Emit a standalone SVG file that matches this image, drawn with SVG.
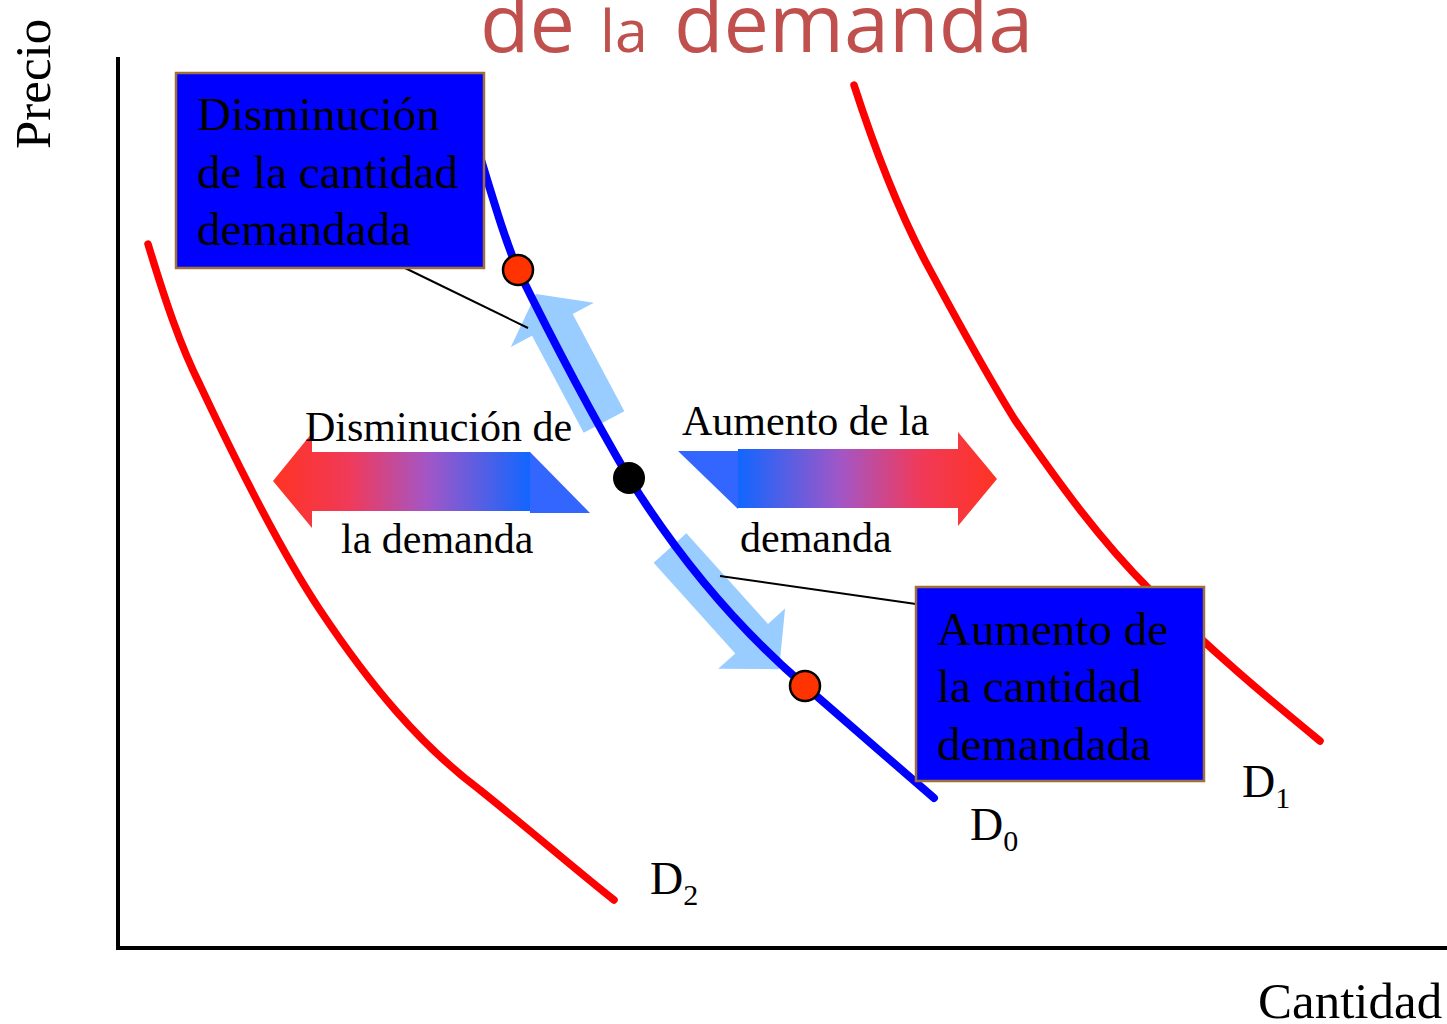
<svg xmlns="http://www.w3.org/2000/svg" width="1447" height="1024" viewBox="0 0 1447 1024">
<style>
.serif{font-family:"Liberation Serif","Times New Roman",serif;fill:#000}
.curve{fill:none;stroke-linecap:round;stroke-linejoin:round}
.red{stroke:#FF0000;stroke-width:7.5}
.blue{stroke:#0000FF;stroke-width:8}
.box{fill:#0000FF;stroke:#A0703A;stroke-width:2.5}
.lead{stroke:#000;stroke-width:2;fill:none}
.move{fill:#99CCFF}
.tail{fill:#3366FF}
.pt{fill:#FF3300;stroke:#000;stroke-width:2.5}
.title{font-family:"Open Sans","Noto Sans",sans-serif;fill:#C0504D}
</style>
<defs>
<linearGradient id="gL" x1="273" y1="0" x2="530" y2="0" gradientUnits="userSpaceOnUse">
<stop offset="0" stop-color="#FF3322"/><stop offset="0.3" stop-color="#F03A5A"/><stop offset="0.6" stop-color="#A356C6"/><stop offset="1" stop-color="#1166FF"/>
</linearGradient>
<linearGradient id="gR" x1="738" y1="0" x2="997" y2="0" gradientUnits="userSpaceOnUse">
<stop offset="0" stop-color="#1166FF"/><stop offset="0.4" stop-color="#A356C6"/><stop offset="0.7" stop-color="#F03A5A"/><stop offset="1" stop-color="#FF3322"/>
</linearGradient>
</defs>
<rect width="1447" height="1024" fill="#fff"/>

<g id="title">
<text class="title" x="480" y="52" font-size="81">de</text>
<text class="title" x="600" y="52" font-size="59">la</text>
<text class="title" x="674" y="52" font-size="81">demanda</text>
</g>

<g id="axes">
<line x1="118" y1="57" x2="118" y2="950" stroke="#000" stroke-width="4"/>
<line x1="116" y1="948" x2="1447" y2="948" stroke="#000" stroke-width="4"/>
<text class="serif" font-size="51" transform="translate(50,149) rotate(-90)">Precio</text>
<text class="serif" x="1258" y="1018" font-size="51">Cantidad</text>
</g>

<g id="D2">
<path class="curve red" d="M148,244 C165,300 180,345 200,385 C240,470 280,550 320,610 C370,685 420,745 480,790 C530,830 570,865 614,900"/>
<text class="serif" x="650" y="894" font-size="46">D<tspan font-size="30" dy="11">2</tspan></text>
</g>

<g id="D1">
<path class="curve red" d="M854,85 C875,150 900,215 930,270 C965,335 990,380 1015,420 C1060,485 1100,540 1150,590 C1210,650 1270,700 1320,741"/>
<text class="serif" x="1242" y="797" font-size="46">D<tspan font-size="30" dy="11">1</tspan></text>
</g>

<g id="movements">
<polygon class="move" transform="translate(604,422) rotate(-118)" points="0,-23 110,-23 110,-47 145,0 110,47 110,23 0,23"/>
<polygon class="move" transform="translate(670,548) rotate(48)" points="0,-22 122,-22 122,-45 163,0 122,45 122,22 0,22"/>
</g>

<g id="D0">
<path class="curve blue" d="M478,150 C495,205 505,240 518,270 C555,345 595,420 629,478 C680,560 740,630 805,686 C850,725 890,760 934,798"/>
<text class="serif" x="970" y="840" font-size="46">D<tspan font-size="30" dy="11">0</tspan></text>
</g>

<g id="shift-left">
<polygon fill="url(#gL)" points="273,481 312,433 312,452 530,452 530,511 312,511 312,528"/>
<polygon class="tail" points="530,452 590,513 530,513"/>
<text class="serif" x="305" y="441" font-size="42">Disminución de</text>
<text class="serif" x="341" y="553" font-size="42">la demanda</text>
</g>

<g id="shift-right">
<polygon class="tail" points="678,451 738,451 738,509"/>
<polygon fill="url(#gR)" points="738,449 958,449 958,432 997,479 958,526 958,508 738,508"/>
<text class="serif" x="682" y="435" font-size="42">Aumento de la</text>
<text class="serif" x="740" y="552" font-size="42">demanda</text>
</g>

<g id="connectors">
<line class="lead" x1="405" y1="268" x2="528" y2="328"/>
<line class="lead" x1="720" y1="576" x2="916" y2="604"/>
</g>

<g id="box-decrease">
<rect class="box" x="176" y="73" width="308" height="195"/>
<text class="serif" font-size="47"><tspan x="197" y="130">Disminución</tspan><tspan x="197" y="188">de la cantidad</tspan><tspan x="197" y="245">demandada</tspan></text>
</g>

<g id="box-increase">
<rect class="box" x="916" y="587" width="288" height="194"/>
<text class="serif" font-size="47"><tspan x="937" y="645">Aumento de</tspan><tspan x="937" y="702">la cantidad</tspan><tspan x="937" y="760">demandada</tspan></text>
</g>

<g id="points">
<circle class="pt" cx="518" cy="270" r="15"/>
<circle class="pt" cx="805" cy="686" r="15"/>
<circle cx="629" cy="478" r="16" fill="#000"/>
</g>
</svg>
